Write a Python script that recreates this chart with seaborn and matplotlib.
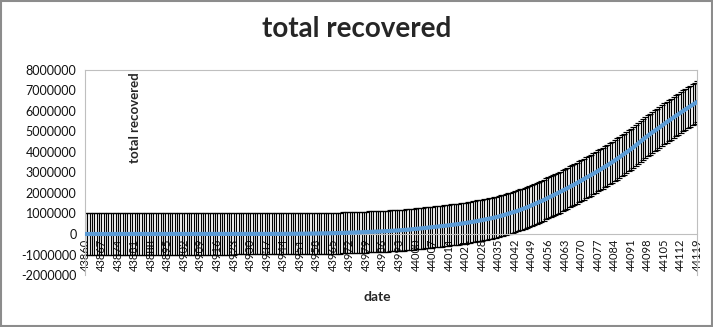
import numpy as np
import pandas as pd
import matplotlib.pyplot as plt
import seaborn as sns
from matplotlib.patches import Rectangle

# data: cumulative recovered, one value per day starting at Excel date 43860
start_date = 43860
jan = [0, 0]
feb = [0] * 13 + [1, 1, 2, 2, 2, 3] + [3] * 10
mar = [3, 3, 3, 3, 3, 3, 3, 3, 3, 3, 4, 4, 10, 10, 13, 14, 14, 15, 20, 23, 27, 27, 40, 43, 45,
       73, 84, 95, 102, 138, 150]
apr = [169, 191, 230, 328, 402, 473, 507, 631, 764, 858, 1080, 1291, 1512, 1767, 2041, 2463, 2854,
       3273, 3975, 4370, 5012, 5498, 6185, 6869, 7797, 8373, 9068, 10007, 11414, 12727]
may = [14183, 15331, 16776, 17887, 19301, 20969, 22549, 24385, 26400, 28000, 30258, 34224, 36795,
       39233, 42309, 45422, 48534, 51824, 57692, 61149, 64426, 67749, 71105, 73560, 80722, 86936,
       89995, 95754, 100285, 104071, 108450]
jun = [113000, 118500, 124000, 130000, 136000, 142000, 148500, 155000, 162500, 170000, 180000,
       187000, 194500, 204500, 213500, 227000, 238000, 248000, 258500, 271500, 285500, 296000,
       309500, 321500, 334500, 348000, 359000, 370000, 379500, 394000]
jul = [410000, 424500, 439500, 456500, 470500, 486000, 502000, 518000, 535000, 554000, 572000,
       591000, 613000, 637000, 655000, 677000, 700000, 720000, 742000, 769000, 795000, 822000,
       853000, 883000, 917000, 952000, 984000, 1020000, 1055000, 1093000, 1130000]
aug = [1172000, 1217000, 1257000, 1300000, 1350000, 1396000, 1446000, 1497000, 1552000, 1605000,
       1652000, 1709000, 1761000, 1820000, 1878000, 1934000, 1990000, 2048000, 2111000, 2173000,
       2236000, 2299000, 2356000, 2413000, 2478000, 2547000, 2613000, 2678000, 2743000, 2807000,
       2867000]
sep = [2936000, 3004000, 3074000, 3143000, 3212000, 3282000, 3353000, 3427000, 3501000, 3578000,
       3658000, 3737000, 3815000, 3894000, 3978000, 4059000, 4142000, 4230000, 4325000, 4420000,
       4514000, 4611000, 4699000, 4786000, 4872000, 4958000, 5040000, 5116000, 5196000, 5281000]
oct_ = [5367000, 5448000, 5529000, 5607000, 5688000, 5768000, 5846000, 5924000, 6006000, 6080000,
        6154000, 6228000, 6302000, 6376000, 6450000]
recovered = jan + feb + mar + apr + may + jun + jul + aug + sep + oct_
error_amount = 1000000
y_ticks = list(range(-2000000, 8000001, 1000000))
tick_step = 7

df = pd.DataFrame({'date': np.arange(start_date, start_date + len(recovered)),
                   'recovered': recovered})

sns.set_style('white')
plt.rcParams['font.family'] = ['Lato', 'DejaVu Sans']

fig = plt.figure(figsize=(7.13, 3.27), dpi=100)
ax = fig.add_axes([0.119, 0.159, 0.859, 0.627])

# fixed error bars, then the line on top
ax.errorbar(df['date'], df['recovered'], yerr=error_amount, fmt='none', ecolor='black',
            elinewidth=0.85, capsize=2, capthick=0.85, zorder=2)
sns.lineplot(data=df, x='date', y='recovered', color='#5B9BD5', linewidth=3, ax=ax, zorder=3)

ax.set_xlim(df['date'].iloc[0], df['date'].iloc[-1])
ax.set_ylim(y_ticks[0], y_ticks[-1])
ax.set_yticks(y_ticks)
ax.set_yticklabels([str(v) for v in y_ticks])
x_ticks = df['date'].iloc[::tick_step]
ax.set_xticks(x_ticks)
ax.set_xticklabels([str(v) for v in x_ticks])

ax.spines['bottom'].set_position(('data', 0))
for s in ax.spines.values():
    s.set_color('#bfbfbf')
    s.set_linewidth(0.8)
ax.tick_params(axis='x', direction='inout', length=5, color='#bfbfbf', labelsize=8, pad=1,
               labelcolor='#111111', labelrotation=90)
ax.tick_params(axis='y', direction='out', length=4, color='#bfbfbf', labelsize=9, pad=2,
               labelcolor='#111111')
for lbl in ax.get_xticklabels():
    lbl.set_va('top')
    lbl.set_ha('center')
ax.set_xlabel('')
ax.set_ylabel('')

fig.text(0.5, 1 - 37 / 327, 'total recovered', ha='center', va='baseline', fontsize=20,
         fontweight='bold')
fig.text(135 / 713, 1 - 118 / 327, 'total recovered', ha='center', va='center', rotation=90,
         fontsize=9.5, fontweight='bold')
fig.text(377 / 713, 1 - 297 / 327, 'date', ha='center', va='center', fontsize=10,
         fontweight='bold')

fig.patches.append(Rectangle((0.001, 0.002), 0.997, 0.996, transform=fig.transFigure,
                             fill=False, edgecolor='#8c8c8c', linewidth=1.5))

fig.savefig('out.png', dpi=100)
